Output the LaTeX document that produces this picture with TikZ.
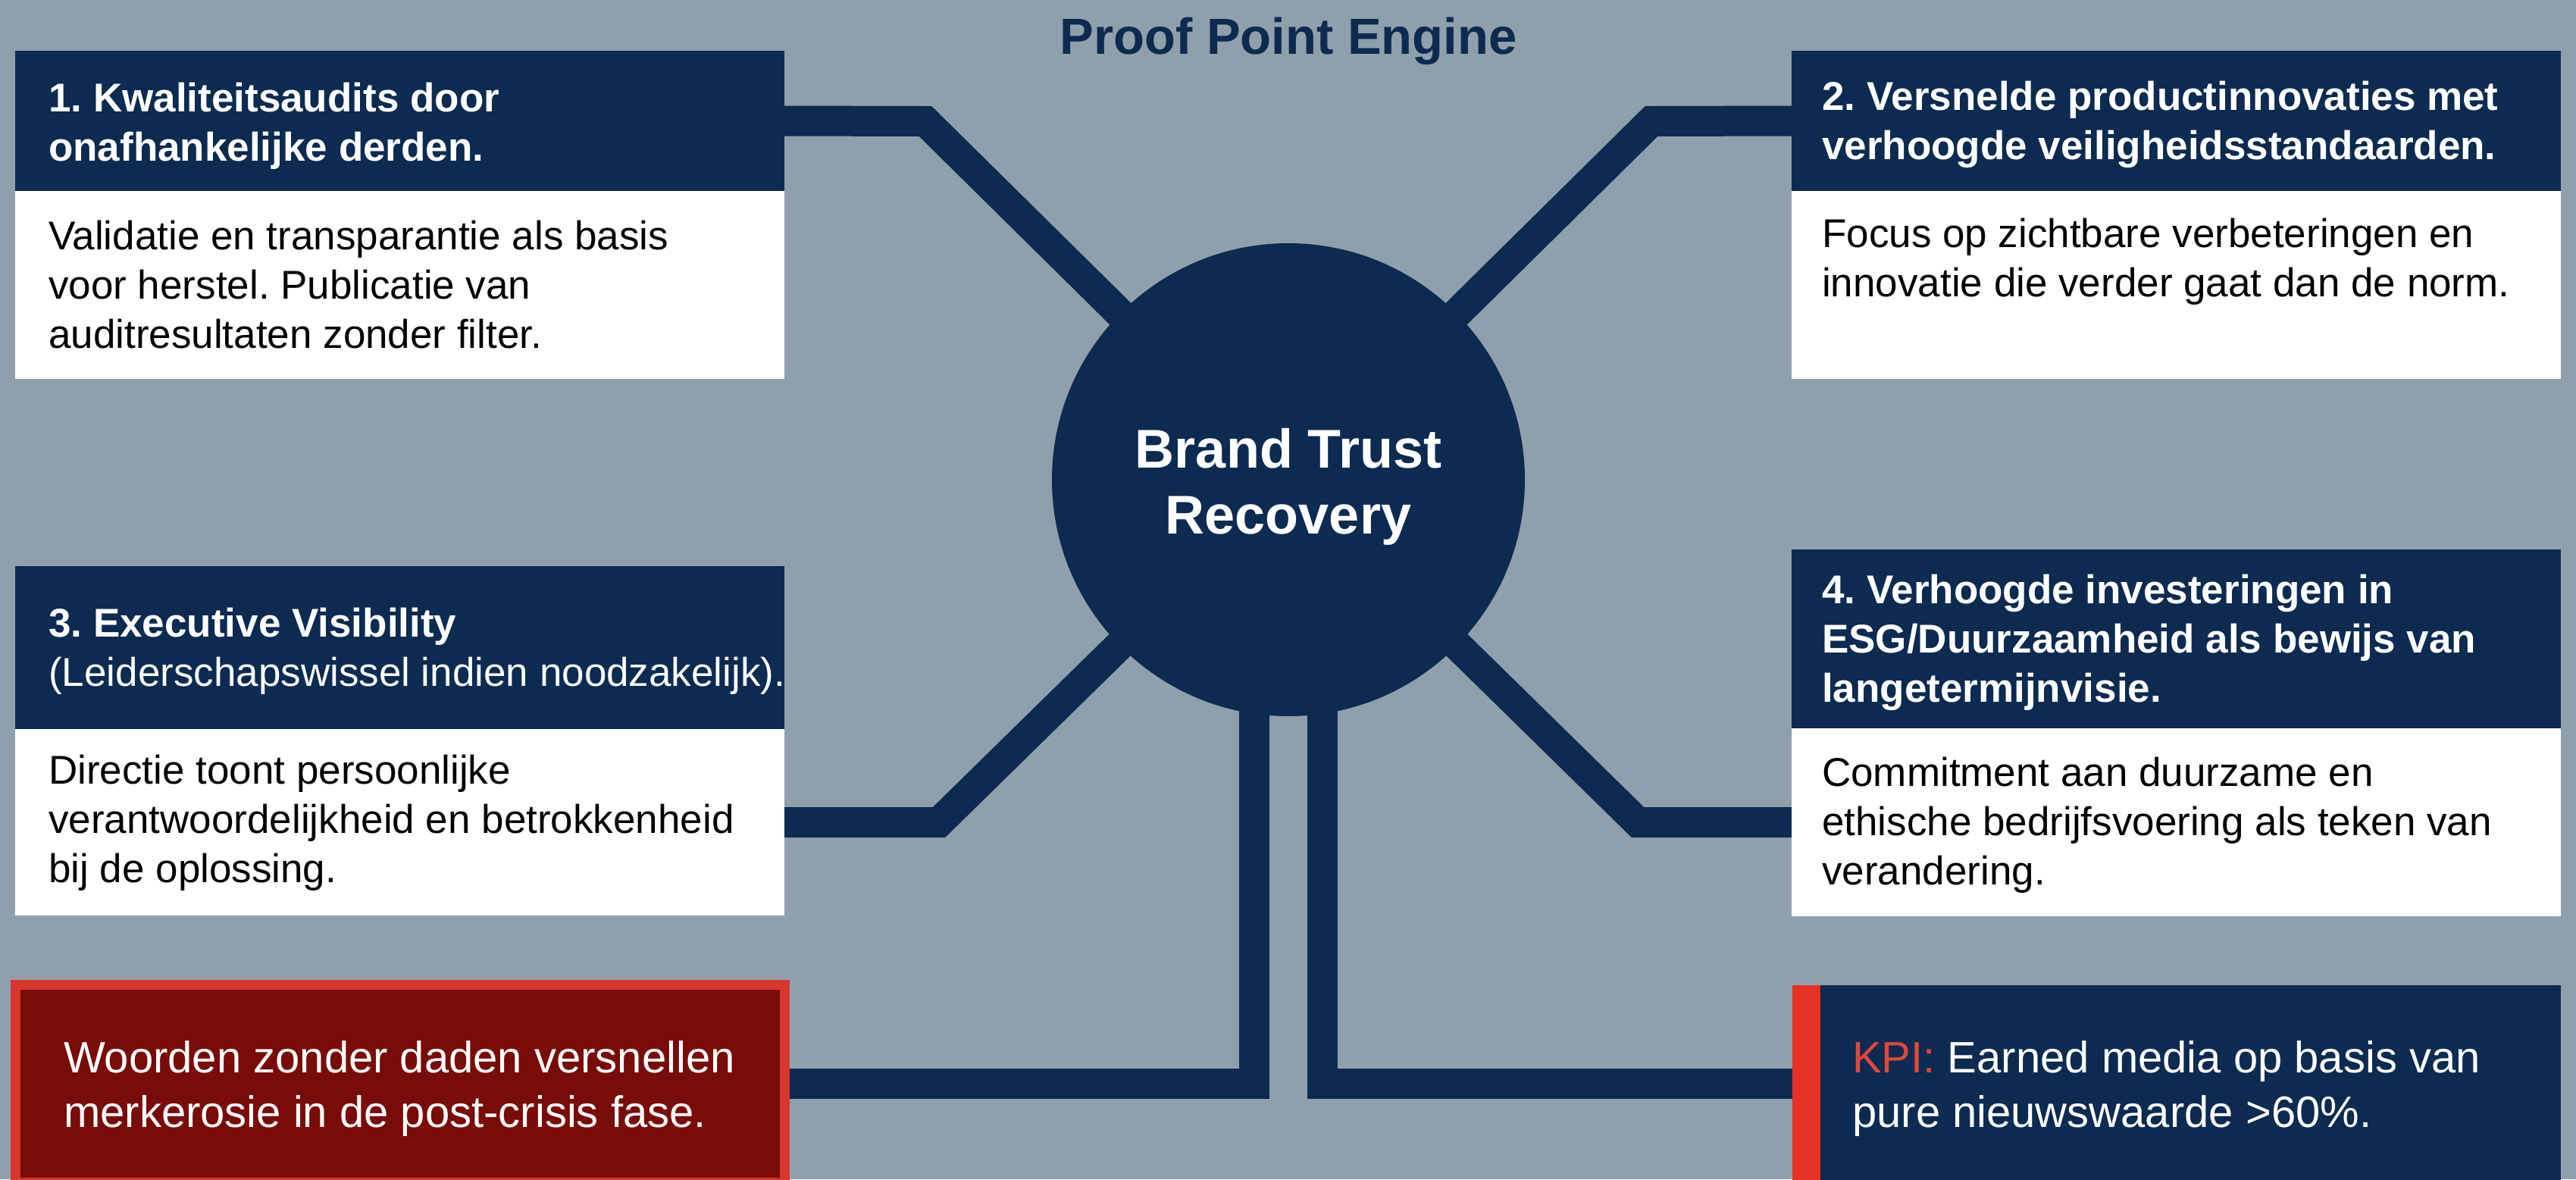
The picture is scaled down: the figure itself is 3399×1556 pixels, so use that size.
\documentclass[tikz,border=0pt]{standalone}
\usepackage{fontspec}
\setmainfont{Liberation Sans}
\frenchspacing
\definecolor{bgcol}{HTML}{909FAC}
\definecolor{navy}{HTML}{0D2A50}
\definecolor{alarm}{HTML}{780C0A}
\definecolor{alarmedge}{HTML}{D7372D}
\definecolor{kpired}{HTML}{E63223}
\definecolor{kpitext}{HTML}{E0483C}
\pgfdeclarelayer{bg}
\pgfsetlayers{bg,main}
\tikzset{
  panel/.style={rectangle, inner sep=0pt, outer sep=0pt, anchor=north west, minimum width=1015pt},
  headbox/.style={panel, fill=navy},
  bodybox/.style={panel, fill=white},
  link/.style={draw=navy, line width=40pt},
  % multi-line text nodes are placed by the baseline of their last line
  headtxt/.style={anchor=base west, inner sep=0pt, align=left, text=white,
    font=\fontsize{53}{65}\selectfont\bfseries},
  bodytxt/.style={anchor=base west, inner sep=0pt, align=left, text=black,
    font=\fontsize{53}{65}\selectfont},
  bigtxt/.style={anchor=base west, inner sep=0pt, align=left, text=white,
    font=\fontsize{58}{72}\selectfont},
}
\begin{document}
\begin{tikzpicture}[x=1pt,y=-1pt]
\useasboundingbox (0,0) rectangle (3399,1556);
\begin{pgfonlayer}{bg}
  \fill[bgcol] (0,0) rectangle (3399,1556);
\end{pgfonlayer}

% title
\node[font=\fontsize{67}{80}\selectfont\bfseries, text=navy, anchor=base, inner sep=0pt] (title) at (1700,71) {Proof Point Engine};

% four proof point panels
\node[headbox, minimum height=185pt] (h1) at (20,67) {};
\node[bodybox, minimum height=248pt] (b1) at (20,252) {};
\node[headbox, minimum height=185pt] (h2) at (2364,67) {};
\node[bodybox, minimum height=248pt] (b2) at (2364,252) {};
\node[headbox, minimum height=215pt] (h3) at (20,747) {};
\node[bodybox, minimum height=246pt] (b3) at (20,962) {};
\node[headbox, minimum height=236pt] (h4) at (2364,725) {};
\node[bodybox, minimum height=248pt] (b4) at (2364,961) {};

\node[headtxt] (ht1) at (64,212) {1. Kwaliteitsaudits door\\onafhankelijke derden.};
\node[bodytxt] (bt1) at (64,459) {Validatie en transparantie als basis\\voor herstel. Publicatie van\\auditresultaten zonder filter.};
\node[headtxt] (ht2) at (2404,210) {2. Versnelde productinnovaties met\\verhoogde veiligheidsstandaarden.};
\node[bodytxt] (bt2) at (2404,391) {Focus op zichtbare verbeteringen en\\innovatie die verder gaat dan de norm.};
\node[headtxt] (ht3) at (64,905) {3. Executive Visibility\\{\mdseries (Leiderschapswissel indien noodzakelijk).}};
\node[bodytxt] (bt3) at (64,1164) {Directie toont persoonlijke\\verantwoordelijkheid en betrokkenheid\\bij de oplossing.};
\node[headtxt] (ht4) at (2404,926) {4. Verhoogde investeringen in\\ESG/Duurzaamheid als bewijs van\\langetermijnvisie.};
\node[bodytxt] (bt4) at (2404,1167) {Commitment aan duurzame en\\ethische bedrijfsvoering als teken van\\verandering.};

% bottom panels, cut by the lower edge
\begin{scope}
  \clip (0,0) rectangle (3399,1556);
  \node[panel, fill=alarm, draw=alarmedge, line width=13pt, minimum height=261pt] (warn) at (20.5,1299.5) {};
  \node[panel, fill=navy, minimum width=1014pt, minimum height=260pt] (kpi) at (2365,1300) {};
  \fill[kpired] (kpi.north west) rectangle ([xshift=37pt]kpi.south west);
\end{scope}
\node[bigtxt] (warntxt) at (84,1487) {Woorden zonder daden versnellen\\merkerosie in de post-crisis fase.};
\node[bigtxt] (kpitxt) at (2444,1487) {\textcolor{kpitext}{KPI:} Earned media op basis van\\pure nieuwswaarde >60\%.};

% central hub
\node[circle, fill=navy, minimum size=624pt, inner sep=0pt] (core) at (1700,633) {};
\node[anchor=base, inner sep=0pt, align=center, text=white, font=\fontsize{72}{87}\selectfont\bfseries] (coretxt) at (1700,704) {Brand Trust\\Recovery};

% connectors
\coordinate (k1) at (1221,160);
\coordinate (k2) at (2179,160);
\coordinate (k3) at (1239,1085);
\coordinate (k4) at (2161,1085);
\begin{pgfonlayer}{bg}
  \draw[link] (h1.east) -- (k1) -- (core.center);
  \draw[link] (h2.west) -- (k2) -- (core.center);
  \draw[link] (b3.east) -- (k3) -- (core.center);
  \draw[link] (b4.west) -- (k4) -- (core.center);
  \draw[link] ([xshift=-45pt]core.center) |- (warn.east);
  \draw[link] ([xshift=45pt]core.center) |- (kpi.west);
\end{pgfonlayer}
\end{tikzpicture}
\end{document}
